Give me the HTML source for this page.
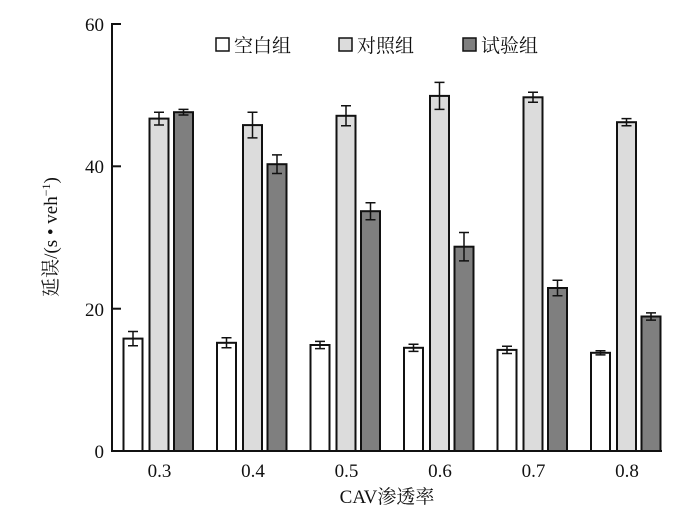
<!DOCTYPE html><html><head><style>body{margin:0;background:#fff}svg{display:block}text{font-family:"Liberation Serif","Noto Serif CJK SC",serif;fill:#111}</style></head><body>
<svg width="700" height="518" xmlns="http://www.w3.org/2000/svg">
<g stroke="#111" stroke-width="2" fill="#fff">
<rect x="123.5" y="338.6" width="19" height="112.4"/>
<rect x="217" y="342.8" width="19" height="108.2"/>
<rect x="310.5" y="345" width="19" height="106"/>
<rect x="404" y="347.8" width="19" height="103.2"/>
<rect x="497.5" y="349.9" width="19" height="101.1"/>
<rect x="591" y="352.8" width="19" height="98.2"/>
</g>
<g stroke="#111" stroke-width="2" fill="#dcdcdc">
<rect x="149.5" y="118.6" width="19" height="332.4"/>
<rect x="243" y="125.1" width="19" height="325.9"/>
<rect x="336.5" y="115.8" width="19" height="335.2"/>
<rect x="430" y="95.9" width="19" height="355.1"/>
<rect x="523.5" y="97.3" width="19" height="353.7"/>
<rect x="617" y="122.2" width="19" height="328.8"/>
</g>
<g stroke="#111" stroke-width="2" fill="#7f7f7f">
<rect x="174" y="112.2" width="19" height="338.8"/>
<rect x="267.5" y="164.2" width="19" height="286.8"/>
<rect x="361" y="211.2" width="19" height="239.8"/>
<rect x="454.5" y="246.7" width="19" height="204.3"/>
<rect x="548" y="288" width="19" height="163"/>
<rect x="641.5" y="316.5" width="19" height="134.5"/>
</g>
<path stroke="#111" stroke-width="1.5" fill="none" d="
M128 331.5h10M133 331.5V345.7M128 345.7h10
M221.5 337.8h10M226.5 337.8V347.8M221.5 347.8h10
M315 341.4h10M320 341.4V348.6M315 348.6h10
M408.5 344.2h10M413.5 344.2V351.4M408.5 351.4h10
M502 346.3h10M507 346.3V353.5M502 353.5h10
M595.5 350.7h10M600.5 350.7V354.9M595.5 354.9h10
M154 112.2h10M159 112.2V125M154 125h10
M247.5 112.3h10M252.5 112.3V137.9M247.5 137.9h10
M341 105.8h10M346 105.8V125.8M341 125.8h10
M434.5 82.4h10M439.5 82.4V109.4M434.5 109.4h10
M528 92.3h10M533 92.3V102.3M528 102.3h10
M621.5 118.6h10M626.5 118.6V125.8M621.5 125.8h10
M178.5 109.4h10M183.5 109.4V115M178.5 115h10
M272 154.9h10M277 154.9V173.5M272 173.5h10
M365.5 202.7h10M370.5 202.7V219.7M365.5 219.7h10
M459 232.5h10M464 232.5V260.9M459 260.9h10
M552.5 280.2h10M557.5 280.2V295.8M552.5 295.8h10
M646 312.9h10M651 312.9V320.1M646 320.1h10"/>
<g stroke="#111" stroke-width="2" fill="none">
<line x1="112" y1="23" x2="112" y2="452"/><line x1="111" y1="451" x2="662" y2="451"/>
<line x1="112" y1="24" x2="121" y2="24"/><line x1="112" y1="166.3" x2="121" y2="166.3"/><line x1="112" y1="308.7" x2="121" y2="308.7"/>
</g>
<g font-size="19" text-anchor="end"><text x="104" y="31">60</text><text x="104" y="173">40</text><text x="104" y="316">20</text><text x="104" y="458">0</text></g>
<g font-size="19" text-anchor="middle"><text x="159.5" y="477">0.3</text><text x="253" y="477">0.4</text><text x="346.5" y="477">0.5</text><text x="440" y="477">0.6</text><text x="533.5" y="477">0.7</text><text x="627" y="477">0.8</text></g>
<text x="387" y="503" font-size="19" text-anchor="middle">CAV渗透率</text>
<text transform="translate(57,237) rotate(-90)" font-size="19" text-anchor="middle">延误/(s • veh<tspan dy="-7" font-size="12">−1</tspan><tspan dy="7">)</tspan></text>
<g stroke="#111" stroke-width="1.5">
<rect x="216" y="38" width="13" height="13" fill="#fff"/><rect x="339" y="38" width="13" height="13" fill="#dcdcdc"/><rect x="463" y="38" width="13" height="13" fill="#7f7f7f"/></g>
<g font-size="19"><text x="234" y="52">空白组</text><text x="357" y="52">对照组</text><text x="481" y="52">试验组</text></g>
</svg></body></html>
